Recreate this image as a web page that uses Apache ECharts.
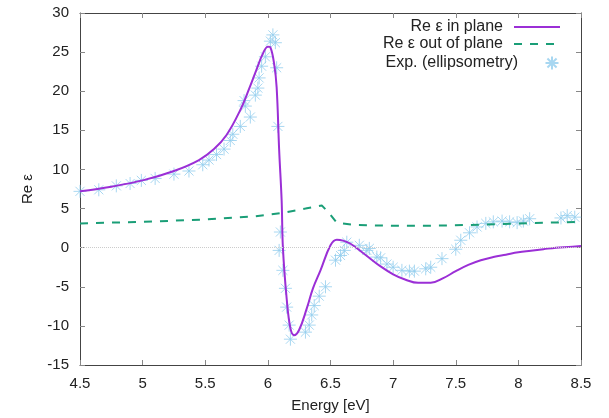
<!DOCTYPE html>
<html>
<head>
<meta charset="utf-8">
<script src="https://cdn.jsdelivr.net/npm/echarts@6/dist/echarts.min.js"></script>
<style>
  html, body { margin: 0; padding: 0; background: #fff; }
  #chart { width: 609px; height: 418px; }
</style>
</head>
<body>
<div id="chart"></div>
<script>
// Re eps in plane (theory)
var inPlane = [
  [4.5, 7.2], [4.75, 7.8], [5.0, 8.6], [5.25, 9.8], [5.45, 11.2], [5.57, 12.6],
  [5.67, 14.4], [5.78, 17.6], [5.85, 20.3], [5.91, 22.8], [5.96, 24.8], [6.0, 25.7],
  [6.02, 25.6], [6.05, 23.5], [6.07, 20.5], [6.09, 12.5], [6.11, 6.0], [6.12, 0.0],
  [6.15, -6.5], [6.18, -10.3], [6.21, -11.2], [6.25, -10.5], [6.31, -7.8], [6.36, -5.2],
  [6.42, -2.9], [6.5, 0.3], [6.55, 1.0], [6.6, 0.9], [6.66, 0.5], [6.77, -0.8],
  [6.9, -2.4], [7.0, -3.4], [7.1, -4.1], [7.2, -4.5], [7.3, -4.5], [7.4, -3.9],
  [7.5, -3.0], [7.6, -2.2], [7.7, -1.6], [7.8, -1.2], [7.9, -0.9], [8.0, -0.6],
  [8.1, -0.4], [8.2, -0.2], [8.3, 0.0], [8.4, 0.1], [8.5, 0.2]
];
// Re eps out of plane (theory)
var outPlane = [
  [4.5, 3.1], [5.0, 3.3], [5.5, 3.6], [5.9, 4.0], [6.1, 4.4], [6.3, 5.0],
  [6.43, 5.4], [6.49, 4.4], [6.55, 3.2], [6.7, 2.9], [7.0, 2.8], [7.3, 2.8],
  [7.6, 2.9], [8.0, 3.1], [8.5, 3.3]
];
// ellipsometry data
var expData = [
  [4.5, 7.2], [4.65, 7.4], [4.79, 7.9], [4.9, 8.2], [4.99, 8.6], [5.1, 8.85],
  [5.25, 9.4], [5.37, 9.8], [5.48, 10.6], [5.53, 11.2], [5.59, 11.9], [5.65, 12.6],
  [5.7, 13.7], [5.72, 14.5], [5.78, 15.5], [5.86, 16.7], [5.82, 18.1], [5.81, 18.8],
  [5.9, 19.5], [5.92, 20.4], [5.93, 21.7], [5.95, 23.2], [5.98, 24.4], [6.02, 26.4],
  [6.04, 27.2], [6.06, 26.2], [6.07, 23.0], [6.08, 15.5], [6.1, 2.0], [6.09, -0.35],
  [6.12, -2.9], [6.14, -5.2], [6.15, -7.6], [6.17, -9.9], [6.18, -11.7], [6.3, -10.8],
  [6.33, -9.9], [6.35, -8.6], [6.37, -7.4], [6.41, -6.2], [6.46, -5.0], [6.54, -1.6],
  [6.58, -1.0], [6.61, -0.35], [6.63, 0.7], [6.73, 0.3], [6.79, -0.35], [6.81, -0.1],
  [6.87, -1.2], [6.9, -1.3], [6.95, -2.1], [7.0, -2.5], [7.07, -2.9], [7.13, -3.0],
  [7.17, -3.0], [7.26, -2.7], [7.3, -2.5], [7.39, -1.4], [7.5, -0.2], [7.54, 0.95],
  [7.61, 1.9], [7.67, 2.65], [7.74, 3.1], [7.8, 3.3], [7.87, 3.4], [7.93, 3.3],
  [7.99, 3.2], [8.04, 3.4], [8.09, 3.7], [8.34, 3.8], [8.39, 4.1], [8.45, 3.9]
];

var star = 'path://M0,-10L0,10M-10,0L10,0M-7,-7L7,7M-7,7L7,-7';
var font = 'Liberation Sans, Arial, sans-serif';
var legendText = { fontSize: 16, color: '#222', fontFamily: font, padding: [0, 6, 0, 0] };

var myChart = echarts.init(document.getElementById('chart'));
var option = {
  animation: false,
  textStyle: { fontFamily: font },
  grid: { left: 80, right: 28, top: 13, bottom: 52 },
  legend: [
    {
      data: ['Re ε in plane'], right: 48, top: 19, align: 'right', padding: 0,
      itemWidth: 46, itemHeight: 14, textStyle: legendText
    },
    {
      data: ['Re ε out of plane'], right: 48, top: 36, align: 'right', padding: 0,
      itemWidth: 46, itemHeight: 14, textStyle: legendText
    },
    {
      data: ['Exp. (ellipsometry)'], right: 48, top: 54, align: 'right', padding: 0,
      itemWidth: 46, itemHeight: 13, textStyle: legendText
    }
  ],
  xAxis: [
    {
      type: 'value', min: 4.5, max: 8.5, interval: 0.5,
      name: 'Energy [eV]', nameLocation: 'middle', nameGap: 33,
      nameTextStyle: { fontSize: 15, color: '#222' },
      axisLine: { onZero: false, lineStyle: { color: '#444' } },
      axisTick: { inside: true, length: 5, lineStyle: { color: '#888' } },
      axisLabel: { fontSize: 15, color: '#222', margin: 11 },
      splitLine: { show: false }
    },
    {
      type: 'value', min: 4.5, max: 8.5, interval: 0.5, position: 'top',
      axisLine: { show: true, onZero: false, lineStyle: { color: '#444' } },
      axisTick: { inside: true, length: 5, lineStyle: { color: '#888' } },
      axisLabel: { show: false },
      splitLine: { show: false }
    }
  ],
  yAxis: [
    {
      type: 'value', min: -15, max: 30, interval: 5,
      name: 'Re ε', nameLocation: 'middle', nameGap: 45,
      nameTextStyle: { fontSize: 15, color: '#222' },
      axisLine: { show: true, onZero: false, lineStyle: { color: '#444' } },
      axisTick: { show: true, inside: true, length: 5, lineStyle: { color: '#888' } },
      axisLabel: { fontSize: 15, color: '#222', margin: 11 },
      splitLine: { show: false }
    },
    {
      type: 'value', min: -15, max: 30, interval: 5, position: 'right',
      axisLine: { show: true, onZero: false, lineStyle: { color: '#444' } },
      axisTick: { show: true, inside: true, length: 5, lineStyle: { color: '#888' } },
      axisLabel: { show: false },
      splitLine: { show: false }
    }
  ],
  series: [
    {
      name: 'Exp. (ellipsometry)',
      type: 'scatter',
      data: expData,
      symbol: star,
      symbolSize: 13,
      itemStyle: { color: 'none', borderColor: '#92cdee', borderWidth: 1 },
      z: 1,
      markLine: {
        silent: true, symbol: 'none', label: { show: false },
        lineStyle: { color: '#ccc', type: 'dotted', width: 1 },
        data: [{ yAxis: 0 }]
      }
    },
    {
      name: 'Re ε out of plane',
      type: 'line',
      data: outPlane,
      showSymbol: false,
      symbol: 'none',
      lineStyle: { color: '#1a9e77', width: 2, type: [8, 8] },
      itemStyle: { color: '#1a9e77', opacity: 0 },
      z: 2
    },
    {
      name: 'Re ε in plane',
      type: 'line',
      data: inPlane,
      showSymbol: false,
      symbol: 'none',
      smooth: 0.4,
      lineStyle: { color: '#9b2fd6', width: 2 },
      itemStyle: { color: '#9b2fd6', opacity: 0 },
      z: 3
    }
  ]
};

myChart.setOption(option);
window.addEventListener('resize', function () {
  myChart.resize();
});
</script>
</body>
</html>
